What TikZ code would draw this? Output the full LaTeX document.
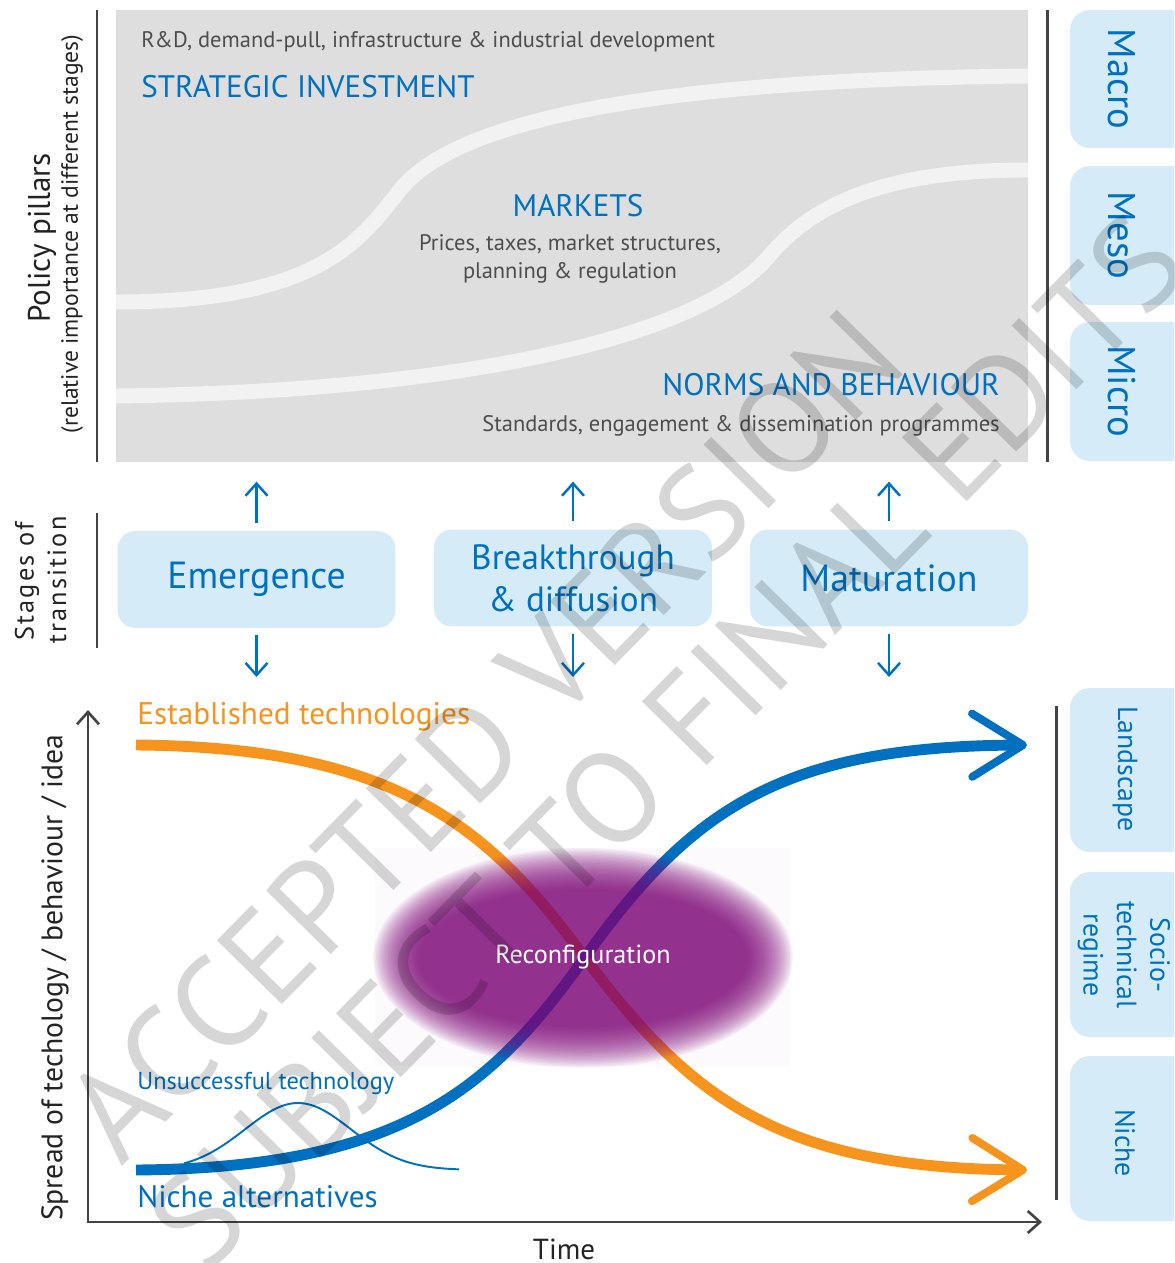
\documentclass[tikz,border=0pt]{standalone}
\usepackage{fontspec}
\setmainfont{PT Sans}
\usetikzlibrary{arrows.meta}

\definecolor{pillarblue}{RGB}{0,112,192}
\definecolor{techorange}{RGB}{247,148,29}
\definecolor{boxblue}{RGB}{213,236,248}
\definecolor{pillargray}{RGB}{222,222,222}
\definecolor{bandgray}{RGB}{242,242,242}
\definecolor{textgray}{RGB}{77,77,77}
\definecolor{textdark}{RGB}{35,35,35}
\definecolor{axisgray}{RGB}{68,68,68}
\definecolor{blobpurple}{RGB}{130,10,125}

\begin{document}
\begin{tikzpicture}[x=0.02cm, y=-0.02cm,
    pillarbox/.style={fill=pillargray, minimum width=18.24cm, minimum height=9.04cm, inner sep=0pt},
    band/.style={draw=bandgray, line width=8.5pt},
    divider/.style={draw=axisgray, line width=1.7pt},
    subtext/.style={text=textgray, font=\fontsize{12.8}{15.9}\selectfont, align=center, inner sep=0pt},
    pillartitle/.style={text=pillarblue, font=\fontsize{17.7}{20}\selectfont, inner sep=0pt},
    sidelabel/.style={rotate=90, text=textdark, inner sep=0pt},
    stagebox/.style={fill=boxblue, rounded corners=0.36cm, minimum width=5.56cm, minimum height=1.94cm,
        text=pillarblue, font=\fontsize{21.5}{24}\selectfont, align=center},
    levelbox/.style={fill=boxblue, rounded corners=0.4cm, minimum width=2.4cm, inner sep=0pt},
    leveltext/.style={text=pillarblue, rotate=-90, align=center, inner sep=0pt},
    stagearrow/.style={draw=pillarblue, line width=1.4pt, -{Straight Barb[length=7pt, width=12.5pt]}},
    axis/.style={draw=axisgray, line width=1.5pt,
        {Straight Barb[length=7pt, width=12.5pt]}-{Straight Barb[length=7pt, width=12.5pt]}},
    trend/.style={line width=6.2pt, -{Straight Barb[length=29pt, width=36pt, line width=4.5pt, round]}},
    chartlabel/.style={anchor=west, inner sep=0pt},
    watermark/.style={text=black, text opacity=0.16, rotate=45.5, font=\fontsize{74}{74}\selectfont}
  ]
  \useasboundingbox (0,0) rectangle (1174,1263);
  \clip (0,0) rectangle (1174,1263);
  \fill[white] (0,0) rectangle (1174,1263);

  % policy pillars
  \node[pillarbox] (pillars) at (572,236) {};
  \draw[band] (116,302) .. controls (320,302) and (360,240) .. (400,190)
    .. controls (450,127.5) and (620,80) .. (1028,76);
  \draw[band] (116,396) .. controls (450,392) and (700,340) .. (770,255)
    .. controls (819,197) and (900,170) .. (1028,170);
  \node[subtext, anchor=west] (rdtext) at (141,42) {R\&D, demand-pull, infrastructure \& industrial development};
  \node[pillartitle, anchor=west] (strategic) at (141,87) {STRATEGIC INVESTMENT};
  \node[pillartitle] (markets) at (578,206) {MARKETS};
  \node[subtext] (prices) at (570,259) {Prices, taxes, market structures,\\planning \& regulation};
  \node[pillartitle, anchor=east] (norms) at (1000,385) {NORMS AND BEHAVIOUR};
  \node[subtext, anchor=east] (standards) at (1000,426) {Standards, engagement \& dissemination programmes};

  \draw[divider] (97,10) -- (97,462);
  \draw[divider] (1047,10) -- (1047,462);
  \node[sidelabel, font=\fontsize{17.7}{20}\selectfont] (pillarlabel) at (42,238) {Policy pillars};
  \node[sidelabel, font=\fontsize{13.4}{15}\selectfont] (pillarnote) at (72,234) {(relative importance at different stages)};

  % macro / meso / micro
  \node[levelbox, minimum height=2.76cm] (macro) at (1130,79) {};
  \node[levelbox, minimum height=2.78cm] (meso) at (1130,235.5) {};
  \node[levelbox, minimum height=2.78cm] (micro) at (1130,391.5) {};
  \node[leveltext, font=\fontsize{22}{24}\selectfont] (macrotext) at (1122,79) {Macro};
  \node[leveltext, font=\fontsize{22}{24}\selectfont] (mesotext) at (1122,235.5) {Meso};
  \node[leveltext, font=\fontsize{22}{24}\selectfont] (microtext) at (1122,391.5) {Micro};

  % stages of transition
  \node[sidelabel, font=\fontsize{15}{18}\selectfont\addfontfeature{LetterSpace=8}] (stagesof) at (27,581) {Stages of};
  \node[sidelabel, font=\fontsize{15}{18}\selectfont\addfontfeature{LetterSpace=8}] (transition) at (57,580) {transition};
  \draw[divider] (97,513) -- (97,648);
  \node[stagebox] (emergence) at (256.5,579.5) {Emergence};
  \node[stagebox, font=\fontsize{20}{24}\selectfont] (breakthrough) at (573,578) {Breakthrough\\\& diffusion};
  \node[stagebox] (maturation) at (889,578) {Maturation};
  \coordinate (chartTop) at (0,677);
  \foreach \s in {emergence, breakthrough, maturation} {
    \draw[stagearrow, shorten <=4.5pt, shorten >=11pt] (\s.north) -- (\s.north |- pillars.south);
    \draw[stagearrow, shorten <=4pt] (\s.south) -- (\s.south |- chartTop);
  }

  % chart
  \coordinate (origin) at (88,1222);
  \coordinate (yend) at (88,710);
  \coordinate (xend) at (1042,1222);
  \draw[axis] (yend) -- (origin) -- (xend);

  \coordinate (estStart) at (136,745);
  \coordinate (estEnd) at (1027,1170);
  \coordinate (nicheStart) at (136,1170);
  \coordinate (nicheEnd) at (1027,745);
  \draw[trend, draw=techorange] (estStart) .. controls (400,747) and (490,830) .. (583,955)
    .. controls (690,1099) and (780,1168) .. (estEnd);
  \draw[trend, draw=pillarblue] (nicheStart) .. controls (400,1168) and (490,1090) .. (583,960)
    .. controls (690,810) and (780,746) .. (nicheEnd);
  \draw[pillarblue, line width=1.1pt] plot[domain=184:459, samples=60, smooth] (\x, {1170-67*exp(-((\x-298)/75)^2)});

  % reconfiguration cloud, soft edge from stacked ellipses
  \fill[blobpurple, fill opacity=0.02] (375,848) rectangle (790,1066);
  \foreach \i in {0,...,30} {
    \fill[blobpurple, fill opacity=0.05] (583,958) ellipse ({210-1.5*\i} and {110-1.35*\i});
  }
  \node[text=white, font=\fontsize{14.9}{16}\selectfont] (reconfig) at (583,957) {Reconfiguration};

  \node[chartlabel, text=techorange, font=\fontsize{17.8}{20}\selectfont] (established) at (137,717) {Established technologies};
  \node[chartlabel, text=pillarblue, font=\fontsize{13.9}{16}\selectfont] (unsuccessful) at (137,1083) {Unsuccessful technology};
  \node[chartlabel, text=pillarblue, font=\fontsize{17.7}{20}\selectfont] (nichealt) at (137,1197) {Niche alternatives};
  \node[sidelabel, font=\fontsize{16.9}{19}\selectfont] (spread) at (55,978) {Spread of techology / behaviour / idea};
  \node[text=textdark, inner sep=0pt, font=\fontsize{16.5}{18}\selectfont] (time) at (564,1249) {Time};

  % landscape / regime / niche
  \draw[divider] (1056,706) -- (1056,1200);
  \node[levelbox, minimum height=3.28cm] (landscape) at (1130,770) {};
  \node[levelbox, minimum height=3.30cm] (regime) at (1130,954.5) {};
  \node[levelbox, minimum height=3.30cm] (niche) at (1130,1138.5) {};
  \node[leveltext, font=\fontsize{15.8}{19}\selectfont] (landscapetext) at (1125,769) {Landscape};
  \node[leveltext, font=\fontsize{15.8}{19}\selectfont] (regimetext) at (1124,955) {Socio-\\technical\\regime};
  \node[leveltext, font=\fontsize{15.8}{19}\selectfont] (nichetext) at (1125,1143) {Niche};

  % watermark
  \node[watermark] (acceptedmark) at (483,735) {ACCEPTED VERSION};
  \node[watermark] (subjectmark) at (667,742) {SUBJECT TO FINAL EDITS};
\end{tikzpicture}
\end{document}
